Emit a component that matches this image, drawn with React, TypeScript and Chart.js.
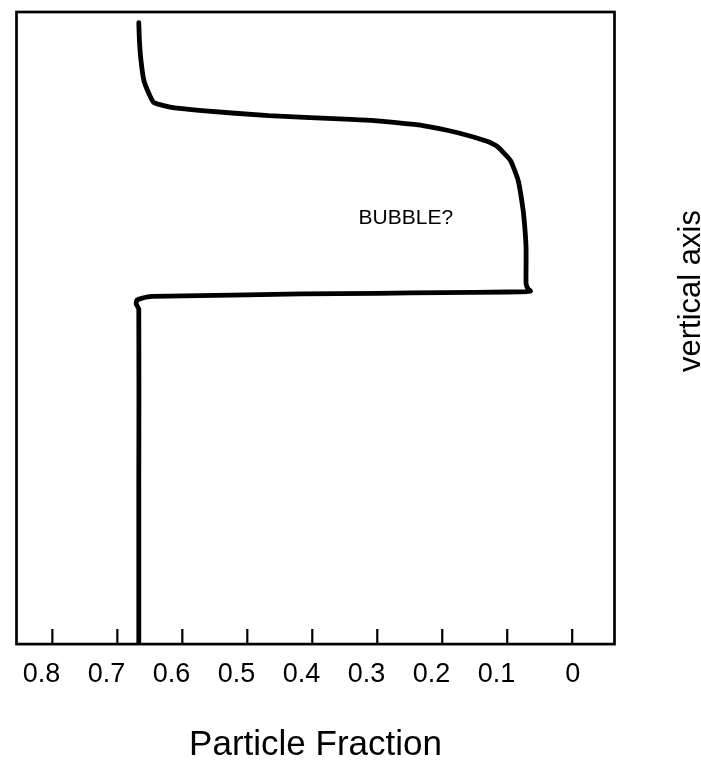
import React, { useEffect, useRef } from "react";
import { Chart, registerables } from "chart.js";

Chart.register(...registerables);

// Particle fraction (x, reversed axis) vs. height (arbitrary units, 0 = bottom)
const particleFraction = [
  0.667, 0.667, 0.667, 0.671, 0.67, 0.663, 0.647, 0.5, 0.417, 0.3, 0.2, 0.1, 0.07, 0.064,
  0.068, 0.071, 0.071, 0.071, 0.073, 0.076, 0.083, 0.095, 0.115, 0.13, 0.176, 0.228, 0.305,
  0.34, 0.467, 0.57, 0.621, 0.644, 0.651, 0.659, 0.6636, 0.666, 0.667,
];
const height = [
  0, 2.5, 5.3, 5.38, 5.44, 5.47, 5.5, 5.525, 5.54, 5.55, 5.56, 5.57, 5.575, 5.585,
  5.62, 5.7, 6.0, 6.27, 6.6, 6.9, 7.33, 7.65, 7.87, 7.95, 8.09, 8.2, 8.28,
  8.3, 8.36, 8.44, 8.5, 8.57, 8.7, 8.91, 9.23, 9.54, 9.83,
];
const tickValues = [0.8, 0.7, 0.6, 0.5, 0.4, 0.3, 0.2, 0.1, 0];
const tickLabels = ["0.8", "0.7", "0.6", "0.5", "0.4", "0.3", "0.2", "0.1", "0"];
const xTitle = "Particle Fraction";
const yTitle = "vertical axis";
const annotationText = "BUBBLE?";
const annotationX = 0.256;
const annotationY = 6.74;

const FONT = '"Liberation Sans", Arial, Helvetica, sans-serif';

export default function App() {
  const ref = useRef<HTMLCanvasElement | null>(null);

  useEffect(() => {
    if (!ref.current) return;
    const framePlugin = {
      id: "framePlugin",
      afterDraw(chart: any) {
        const { ctx, chartArea } = chart;
        const xs = chart.scales.x;
        const ys = chart.scales.y;
        ctx.save();
        // frame
        ctx.strokeStyle = "#000";
        ctx.lineWidth = 2.7;
        ctx.lineJoin = "miter";
        ctx.strokeRect(
          chartArea.left,
          chartArea.top,
          chartArea.right - chartArea.left,
          chartArea.bottom - chartArea.top
        );
        // inward ticks
        ctx.lineWidth = 2.2;
        ctx.beginPath();
        for (const t of xs.ticks) {
          const px = xs.getPixelForValue(t.value);
          ctx.moveTo(px, chartArea.bottom);
          ctx.lineTo(px, chartArea.bottom - 15);
        }
        ctx.stroke();
        // annotation
        ctx.fillStyle = "#000";
        ctx.font = `21px ${FONT}`;
        ctx.textAlign = "center";
        ctx.textBaseline = "middle";
        ctx.fillText(annotationText, xs.getPixelForValue(annotationX), ys.getPixelForValue(annotationY));
        // right-side vertical title
        ctx.translate(700, 291);
        ctx.rotate(-Math.PI / 2);
        ctx.font = `31px ${FONT}`;
        ctx.textAlign = "center";
        ctx.textBaseline = "alphabetic";
        ctx.fillText(yTitle, 0, 0);
        ctx.restore();
      },
    };

    const chart = new Chart(ref.current, {
      type: "scatter",
      data: {
        datasets: [
          {
            data: particleFraction.map((x, i) => ({ x, y: height[i] })),
            showLine: true,
            borderColor: "#000",
            borderWidth: 4.8,
            pointRadius: 0,
            tension: 0.15,
            borderCapStyle: "round",
            borderJoinStyle: "round",
            fill: false,
          },
        ],
      },
      options: {
        animation: false,
        responsive: true,
        maintainAspectRatio: false,
        layout: { padding: { left: 14, top: 12, right: 86.5, bottom: 0 } },
        plugins: { legend: { display: false }, tooltip: { enabled: false } },
        scales: {
          x: {
            type: "linear",
            reverse: true,
            min: -0.0651,
            max: 0.8552,
            afterBuildTicks: (scale: any) => {
              scale.ticks = tickValues.map((v) => ({ value: v }));
            },
            grid: { display: false, drawTicks: false },
            border: { display: false },
            ticks: {
              color: "#000",
              font: { family: FONT, size: 27 },
              padding: 14,
              align: "end",
              labelOffset: 8,
              maxRotation: 0,
              autoSkip: false,
              callback: (v: any) => {
                const i = tickValues.findIndex((t) => Math.abs(t - Number(v)) < 1e-9);
                return i >= 0 ? tickLabels[i] : "";
              },
            },
            title: {
              display: true,
              text: xTitle,
              color: "#000",
              font: { family: FONT, size: 35, lineHeight: 1.1 },
              padding: { top: 22, bottom: 0 },
            },
          },
          y: {
            type: "linear",
            display: false,
            min: 0,
            max: 10,
          },
        },
      },
      plugins: [framePlugin],
    });
    return () => chart.destroy();
  }, []);

  return (
    <div
      style={{
        position: "fixed",
        left: 0,
        top: 0,
        width: 701,
        height: 765,
        background: "#fff",
      }}
    >
      <canvas ref={ref} />
    </div>
  );
}
